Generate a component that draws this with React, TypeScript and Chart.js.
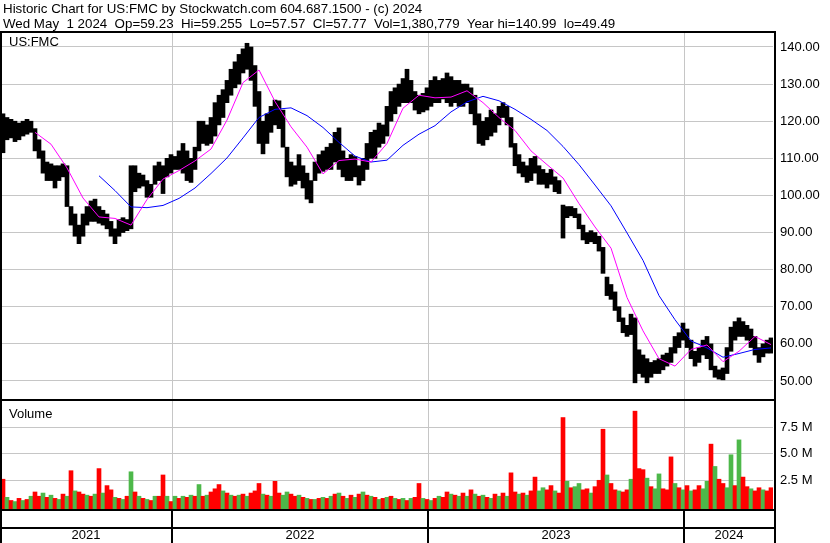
import React, { useEffect, useRef } from "react";
import { Chart, registerables } from "chart.js";

Chart.register(...registerables);

const HEADER_1 = "Historic Chart for US:FMC by Stockwatch.com 604.687.1500 - (c) 2024";
const HEADER_2 =
  "Wed May  1 2024  Op=59.23  Hi=59.255  Lo=57.57  Cl=57.77  Vol=1,380,779  Year hi=140.99  lo=49.49";
const SYMBOL = "US:FMC";
const VOLUME_TITLE = "Volume";

// one bar per ~4 trading days, Apr 2021 .. May 1 2024
const priceLow = [
  111.5, 115, 115.5, 114.5, 115, 116, 116.5, 117, 112, 110,
  106, 104, 104, 102, 104, 105, 97, 92, 89, 87,
  89, 92, 93, 93, 92.5, 92, 91, 89, 87, 89,
  90, 90.5, 91, 101, 102, 102.5, 99.5, 99.5, 103, 104,
  100.5, 105, 106, 107, 107, 106, 104, 103.5, 107, 112,
  114, 113.5, 114, 116, 119, 121, 125, 127, 129, 130,
  133, 134, 131, 124, 114, 111.2, 114, 117, 119, 118,
  113, 105, 102.5, 103, 104, 102, 99, 98, 104, 106,
  106.5, 107, 107, 109, 107, 105, 104, 104, 105, 102.8,
  104, 107, 110, 110, 113, 114, 116, 120, 122, 124,
  125, 125, 125, 123, 122, 122.5, 123, 124, 125, 125,
  126, 125, 124, 125, 124, 124, 125, 122, 119, 114,
  113.5, 115, 116, 117, 119, 121, 119, 113, 108, 106,
  105, 103.5, 104, 106, 103, 103, 102, 103, 101, 100.5,
  88.5, 94, 94.5, 94, 91, 88, 87, 87.5, 87, 85,
  79, 73, 72, 69, 66, 63, 62, 62.5, 49.5, 52,
  51, 49.5, 51, 52, 52, 53, 54, 55, 57.5, 59,
  61, 59, 56, 54, 55, 57, 56, 53, 51, 50.5,
  50.3, 52, 58, 61, 62, 62, 61, 59, 57, 55,
  56.5, 57.5, 57.5,
];

const priceHigh = [
  122, 121, 120.5, 120, 119.5, 120, 120.5, 120, 118, 115,
  112, 109, 108.5, 108, 108, 108.5, 108, 97, 95, 92,
  95, 97, 98.5, 99, 97, 96, 95, 93, 91, 93.5,
  94, 93.5, 108, 108, 106, 105.5, 104, 103, 108, 109,
  108, 110, 111, 110.5, 112, 114, 112, 110, 113, 120,
  120, 119, 121, 125, 127, 128.5, 131, 134, 136, 138,
  139.5, 141, 140, 135, 128, 120, 122, 124, 125.7, 125.5,
  123, 113, 109, 108, 111, 108, 106, 104, 109, 111,
  112, 113, 114, 117, 118.2, 112, 110, 111, 110.5, 108,
  110, 114, 117, 117.6, 119.5, 119, 124, 128, 129, 130,
  131.5, 134, 131, 128, 127, 127.5, 129, 131, 132, 131,
  131.5, 133, 132, 131, 131, 130, 130, 129, 127, 122,
  120, 121, 123, 122, 124, 125, 124, 121, 114, 111,
  109, 108, 110, 110.5, 108, 107, 106, 107, 105, 104,
  97.4, 97, 97, 96.5, 95, 92, 90, 90.5, 90, 89,
  86, 78, 76, 74, 70, 67, 65, 68, 67, 58.4,
  57, 56, 55, 55.5, 56, 57, 57.5, 59, 62, 63,
  65.6, 64, 61, 58, 59, 61, 62, 60, 54, 53,
  53.5, 59, 64.5, 66, 67, 66, 65, 64, 62, 59,
  60, 61, 61.6,
];

// volume in millions, same periods
const volume = [
  2.6, 0.9, 0.6, 0.5, 0.8, 0.6, 0.7, 1.0, 1.4, 1.0,
  1.3, 0.9, 1.1, 0.8, 0.7, 1.2, 1.0, 3.4, 1.5, 1.4,
  1.2, 1.1, 1.0, 1.2, 3.6, 1.3, 2.0, 1.6, 0.9, 0.8,
  0.7, 1.0, 3.3, 1.4, 1.0, 0.8, 0.7, 0.6, 1.0, 1.0,
  3.0, 1.0, 0.5, 1.0, 0.8, 1.0, 0.9, 1.1, 1.0, 2.1,
  1.0, 1.1, 1.4, 1.7, 2.1, 1.5, 1.3, 1.1, 1.0, 1.1,
  1.2, 1.0, 1.3, 1.5, 2.2, 1.2, 1.1, 1.0, 2.4, 1.3,
  1.1, 1.4, 1.2, 1.0, 1.1, 0.9, 0.8, 0.7, 0.7, 0.8,
  0.9, 0.8, 1.0, 1.2, 1.3, 1.0, 0.8, 1.1, 0.9, 1.2,
  1.4, 1.1, 1.0, 0.9, 0.7, 0.8, 0.9, 1.0, 0.8, 0.7,
  0.8, 0.6, 0.8, 0.9, 2.2, 0.8, 0.7, 0.6, 0.8, 1.0,
  0.9, 1.4, 1.2, 1.1, 1.0, 1.3, 1.0, 1.6, 1.2, 1.0,
  1.1, 0.9, 0.8, 1.2, 1.0, 1.3, 1.0, 3.2, 1.4, 1.2,
  1.3, 1.1, 1.5, 2.8, 1.5, 1.8, 1.6, 2.0, 1.5, 1.3,
  8.4, 2.4, 1.8, 1.9, 2.2, 1.6, 1.7, 1.3, 1.9, 2.5,
  7.3, 3.0, 2.2, 1.6, 1.5, 1.4, 1.6, 2.6, 9.0, 3.6,
  3.5, 2.7, 1.9, 1.7, 3.1, 1.7, 1.6, 4.7, 2.2, 1.8,
  1.6, 2.0, 1.5, 1.6, 2.0, 1.7, 2.4, 5.9, 3.8, 2.6,
  2.2, 1.8, 4.9, 2.0, 6.3, 2.8, 1.9, 1.7, 1.5, 1.8,
  1.6, 1.5, 1.8,
];

// r = down period, g = up period
const volumeDir =
  "rgrgrgrgrr" + "grgrgrgrgr" + "rgrgrgrrgr" + "grgrgrgrgr" + "rgrgrgrgrg" +
  "rgrrrgrgrg" + "rgrrrgrgrr" + "ggrrgrgrgr" + "grgrgrgrgr" + "grgrgrgrgr" +
  "grgrrgrgrg" + "rrgrgrgrgr" + "grgrgrgrrg" + "rgrrggrrgr" + "rgrggrrgrr" +
  "rgrrgrrgrr" + "rgrggrrrgr" + "grgrrggrgr" + "rggrgrrgrr" + "grr";

// moving averages sampled every 4 periods
const MA_STEP = 4;
const maShort = [
  null, null, 117.0, 113.8, 107.4, 99.3, 94.2, 93.8, 92.0, 98.9,
  104.4, 106.7, 109.3, 112.5, 120.3, 130.4, 133.8, 125.3, 118.5, 113.0,
  105.8, 109.4, 109.8, 109.0, 114.0, 123.5, 127.0, 126.3, 126.5, 128.2,
  125.0, 121.0, 117.5, 112.0, 108.3, 104.7, 97.8, 91.5, 85.8, 72.5,
  63.5, 56.0, 54.0, 58.5, 59.7, 55.2, 58.0, 62.0, 59.8,
];
const maLong = [
  null, null, null, null, null, null, 105.3, 101.3, 96.9, 96.7,
  97.3, 99.2, 102.0, 105.9, 110.1, 115.5, 121.0, 123.2, 123.6, 121.5,
  118.3, 114.3, 110.6, 109.0, 109.5, 113.5, 116.5, 118.8, 122.5, 125.2,
  126.7, 125.5, 123.2, 120.5, 117.5, 113.2, 108.3, 102.8, 97.2, 89.9,
  82.5, 73.0, 66.5, 60.8, 58.9, 56.4, 57.4, 58.5, 58.9,
];

const priceTicks = [50, 55, 60, 65, 70, 75, 80, 85, 90, 95, 100, 105, 110, 115, 120, 125, 130, 135, 140];
const volumeTicks = [2.5, 5, 7.5];
const years = ["2021", "2022", "2023", "2024"];
const yearCenters = [20.75, 74.25, 138.25, 181.5];
const yearStarts = [42.25, 106.25, 170.25];

const FONT = "'Liberation Sans', Arial, sans-serif";
const GRID = "#c6c6c6";
const RED = "#ff0000";
const GREEN = "#4db84a";

export default function App() {
  const ref = useRef<HTMLCanvasElement>(null);

  useEffect(() => {
    const canvas = ref.current;
    if (!canvas) return;
    const n = priceLow.length;

    const priceData = priceLow.map((lo, i) => ({ x: i, y: [lo, priceHigh[i]] }));
    const volData = volume.map((v, i) => ({ x: i, y: v }));
    const volColors = volume.map((_, i) => (volumeDir[i] === "r" ? RED : GREEN));
    const toLine = (arr: (number | null)[]) =>
      arr
        .map((v, k) => (v == null ? null : { x: k * MA_STEP, y: v }))
        .filter((p) => p !== null);

    const xTicks = [
      ...yearCenters.map((v, i) => ({ value: v, label: years[i] })),
      ...yearStarts.map((v) => ({ value: v, label: "" })),
    ].sort((a, b) => a.value - b.value);

    const priceMax = 143.77;
    const priceMin = 44.87;
    const volMin = -0.2;
    const volMax = 10.05;

    const framePlugin = {
      id: "frames",
      afterDraw(chart: any) {
        const { ctx, chartArea, scales } = chart;
        const H = chart.height;
        const rightEdge = chartArea.right + 1;
        ctx.save();
        ctx.fillStyle = "#000";
        ctx.fillRect(0, chartArea.top - 2, rightEdge + 2, 2);
        ctx.fillRect(0, chartArea.top - 2, 2, H);
        ctx.fillRect(rightEdge, chartArea.top - 2, 2, H);
        ctx.fillRect(0, Math.round(scales.y.bottom) - 1, rightEdge, 2);
        ctx.fillRect(0, chartArea.bottom, rightEdge, 2);
        ctx.fillRect(0, chartArea.bottom + 18, rightEdge, 2);
        yearStarts.forEach((v) => {
          const px = Math.round(scales.x.getPixelForValue(v));
          ctx.fillRect(px - 1, chartArea.bottom, 2, H - chartArea.bottom);
        });
        ctx.restore();
      },
    };

    const chart = new Chart(canvas, {
      type: "bar",
      data: {
        datasets: [
          {
            type: "line",
            label: "MA short",
            data: toLine(maShort) as any,
            borderColor: "#ff00ff",
            borderWidth: 1,
            pointRadius: 0,
            xAxisID: "x",
            yAxisID: "y",
            order: 0,
          },
          {
            type: "line",
            label: "MA long",
            data: toLine(maLong) as any,
            borderColor: "#0000ff",
            borderWidth: 1,
            pointRadius: 0,
            xAxisID: "x",
            yAxisID: "y",
            order: 1,
          },
          {
            type: "bar",
            label: "Price",
            data: priceData as any,
            backgroundColor: "#000",
            barThickness: 4,
            grouped: false,
            xAxisID: "x",
            yAxisID: "y",
            order: 2,
          },
          {
            type: "bar",
            label: "Volume",
            data: volData as any,
            backgroundColor: volColors,
            barThickness: 4,
            grouped: false,
            base: volMin,
            xAxisID: "x",
            yAxisID: "yv",
            order: 3,
          },
        ],
      },
      options: {
        animation: false,
        responsive: false,
        devicePixelRatio: 1,
        layout: { padding: { top: 33, left: 1, right: 0, bottom: 0 }, autoPadding: false },
        plugins: { legend: { display: false }, tooltip: { enabled: false } },
        scales: {
          x: {
            type: "linear",
            position: "bottom",
            offset: false,
            min: -0.5,
            max: n - 0.5,
            afterBuildTicks: (s: any) => {
              s.ticks = xTicks.map((t) => ({ value: t.value }));
            },
            afterFit: (s: any) => {
              s.height = 34;
            },
            ticks: {
              autoSkip: false,
              maxRotation: 0,
              padding: 19,
              color: "#000",
              font: { family: FONT, size: 13 },
              callback: (_v: any, i: number) => xTicks[i].label,
            },
            grid: {
              offset: false,
              drawTicks: false,
              color: (ctx: any) =>
                ctx.tick && yearStarts.includes(ctx.tick.value) ? GRID : "rgba(0,0,0,0)",
            },
            border: { display: false },
          },
          y: {
            type: "linear",
            position: "right",
            stack: "panels",
            stackWeight: 367,
            min: priceMin,
            max: priceMax,
            afterBuildTicks: (s: any) => {
              s.ticks = priceTicks.map((v) => ({ value: v }));
            },
            afterFit: (s: any) => {
              s.width = 57;
            },
            ticks: {
              padding: 7,
              color: "#000",
              font: { family: FONT, size: 13 },
              callback: (v: any) => Number(v).toFixed(2),
            },
            grid: { drawTicks: false, color: GRID },
            border: { display: false },
          },
          yv: {
            type: "linear",
            position: "right",
            stack: "panels",
            stackWeight: 109,
            min: volMin,
            max: volMax,
            afterBuildTicks: (s: any) => {
              s.ticks = volumeTicks.map((v) => ({ value: v }));
            },
            afterFit: (s: any) => {
              s.width = 57;
            },
            ticks: {
              padding: 7,
              color: "#000",
              font: { family: FONT, size: 13 },
              callback: (v: any) => Number(v).toFixed(1) + " M",
            },
            grid: { drawTicks: false, color: GRID },
            border: { display: false },
          },
        },
      },
      plugins: [framePlugin],
    });

    return () => chart.destroy();
  }, []);

  const textStyle: React.CSSProperties = {
    position: "absolute",
    fontFamily: FONT,
    fontSize: 13.33,
    lineHeight: "15px",
    color: "#000",
    whiteSpace: "pre",
    margin: 0,
  };

  return (
    <div style={{ position: "relative", width: 830, height: 543, background: "#fff", overflow: "hidden" }}>
      <style>{`body{margin:0;}`}</style>
      <canvas ref={ref} width={830} height={543} style={{ position: "absolute", left: 0, top: 0, width: 830, height: 543 }} />
      <div style={{ ...textStyle, left: 3, top: 1 }}>{HEADER_1}</div>
      <div style={{ ...textStyle, left: 3, top: 16 }}>{HEADER_2}</div>
      <div style={{ ...textStyle, left: 9, top: 34, fontSize: 13 }}>{SYMBOL}</div>
      <div style={{ ...textStyle, left: 9, top: 406, fontSize: 13 }}>{VOLUME_TITLE}</div>
    </div>
  );
}
